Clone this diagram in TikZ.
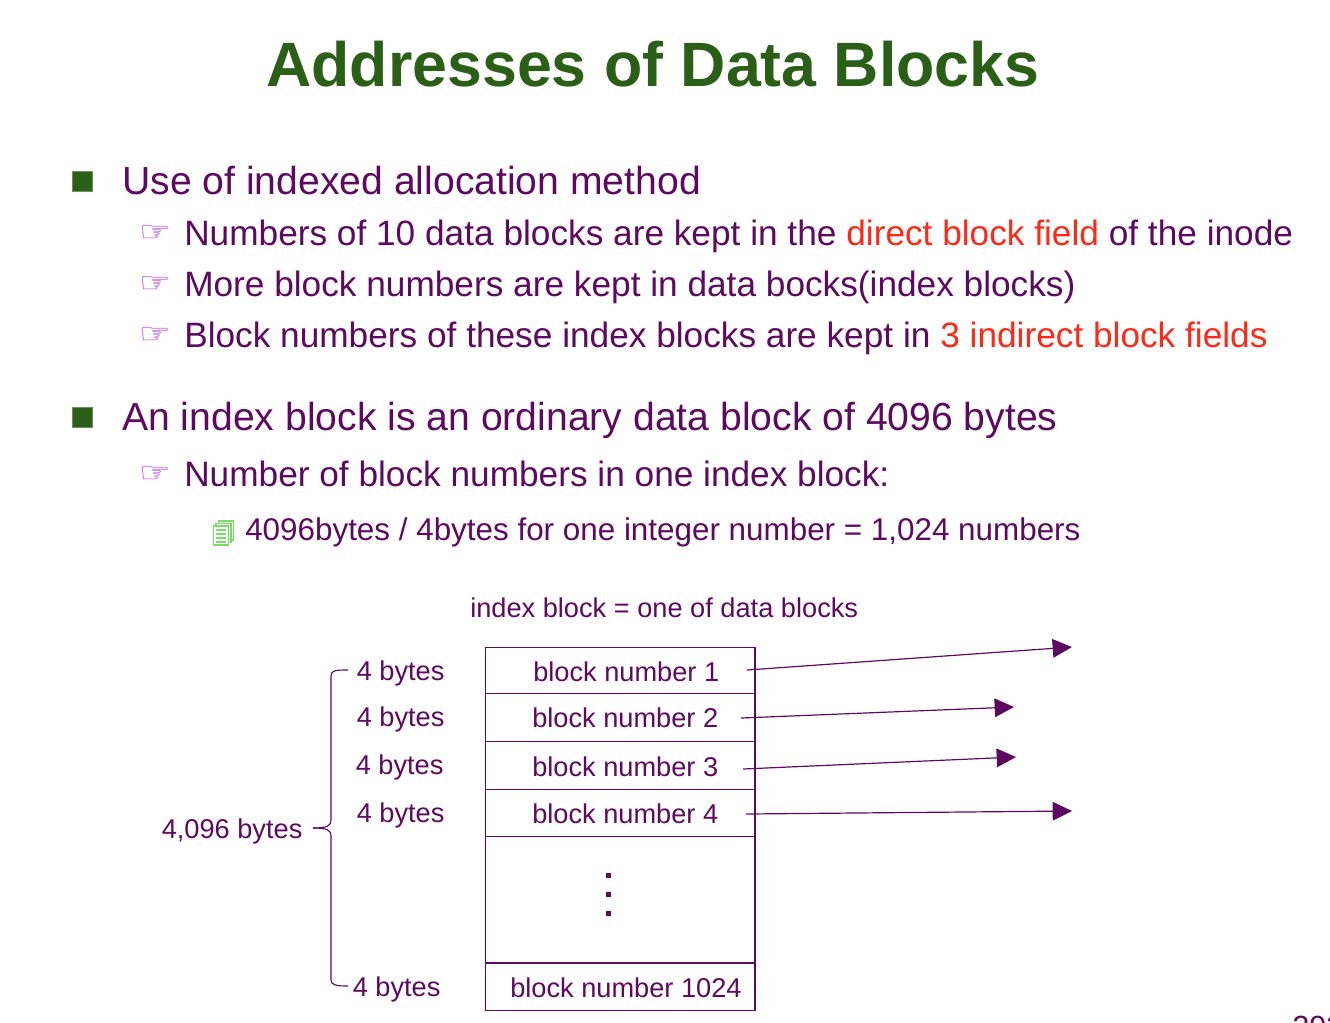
\documentclass[tikz,border=0pt]{standalone}
\usepackage{fontspec}
\setmainfont{Liberation Sans}
\newfontfamily\symfont[FakeBold=0.6,FakeStretch=1.3]{DejaVu Sans}
\usetikzlibrary{arrows.meta}
\definecolor{titlegreen}{HTML}{2B5F17}
\definecolor{textpurple}{HTML}{5C0A60}
\definecolor{alertred}{HTML}{FF2A1A}
\definecolor{handviolet}{HTML}{CC80FF}
\definecolor{pagegreen}{HTML}{77DD66}
\newcommand{\alert}[1]{\textcolor{alertred}{#1}}
\begin{document}
\begin{tikzpicture}[x=0.75pt,y=-0.75pt,
    textline/.style ={anchor=base west, inner sep=0pt, text=textpurple},
    levelone/.style ={textline, font=\fontsize{29.35}{36}\selectfont},
    leveltwo/.style ={textline, font=\fontsize{26.43}{31}\selectfont},
    levelthree/.style ={textline, font=\fontsize{23.55}{28}\selectfont},
    small/.style ={textline, font=\fontsize{20.4}{25}\selectfont},
    square/.style ={fill=titlegreen, draw=titlegreen!70, line width=0.3pt, inner sep=0pt, minimum size=15pt},
    hand/.style ={inner sep=0pt, text=handviolet, font=\symfont\fontsize{21}{25}\selectfont},
    cell/.style ={draw=textpurple, line width=0.8pt, inner sep=0pt, minimum width=202pt},
    pointer/.style ={draw=textpurple, line width=0.9pt, -{Triangle[length=14.5pt,width=14pt]}}]
   \useasboundingbox (0,0) rectangle (1330,1022);

   \node[anchor=base, inner sep=0pt, text=titlegreen, font=\fontsize{47}{56}\selectfont\bfseries] (title) at (653,86.5) {Addresses of Data Blocks};

   \node[square] (B1) at (82,181) {};
   \node[levelone] (L1) at (122,194) {Use of indexed allocation method};
   \node[hand] (H1) at (155,233) {☞};
   \node[leveltwo] (L2) at (184,245) {Numbers of 10 data blocks are kept in the \alert{direct block field} of the inode};
   \node[hand] (H2) at (155,284) {☞};
   \node[leveltwo] (L3) at (184,296) {More block numbers are kept in data bocks(index blocks)};
   \node[hand] (H3) at (155,335) {☞};
   \node[leveltwo] (L4) at (184,347) {Block numbers of these index blocks are kept in \alert{3 indirect block fields}};
   \node[square] (B2) at (82,417) {};
   \node[levelone] (L5) at (122,430) {An index block is an ordinary data block of 4096 bytes};
   \node[hand] (H4) at (155,474) {☞};
   \node[leveltwo] (L6) at (184,486) {Number of block numbers in one index block:};

   % stacked pages
   \foreach \d in {2,1,0} {
     \draw[pagegreen, line width=0.9pt, fill=white] (213.5+2.5*\d,526-2.5*\d) rectangle (228.5+2.5*\d,545-2.5*\d);
   }
   \foreach \y in {530,534,538,542} {
     \draw[pagegreen, line width=0.9pt] (216,\y) -- (226,\y);
   }
   \node[levelthree] (L7) at (245,540) {4096bytes / 4bytes for one integer number = 1,024 numbers};

   \node[small] (head) at (470,617) {index block = one of data blocks};

   \node[cell, minimum height=34.9pt] (R1) at (620.3,670.3) {};
   \node[cell, minimum height=35.6pt] (R2) at (620.3,717.3) {};
   \node[cell, minimum height=36.4pt] (R3) at (620.3,765.3) {};
   \node[cell, minimum height=35.3pt] (R4) at (620.3,813) {};
   \node[cell, minimum height=94.5pt] (R5) at (620.3,899.8) {};
   \node[cell, minimum height=35.3pt] (R6) at (620.3,986.5) {};

   \node[small] (N1) at (533,681) {block number 1};
   \node[small] (N2) at (532,727) {block number 2};
   \node[small] (N3) at (532,776) {block number 3};
   \node[small] (N4) at (532,823) {block number 4};
   \node[small] (N5) at (510,997) {block number 1024};

   \foreach \y in {875,894,913} {
     \fill[textpurple] (605.5,\y-2.5) rectangle (610.5,\y+2.5);
   }

   \node[small] (S1) at (356.5,680) {4 bytes};
   \node[small] (S2) at (356.5,726) {4 bytes};
   \node[small] (S3) at (355.5,774) {4 bytes};
   \node[small] (S4) at (356.5,822) {4 bytes};
   \node[small] (S5) at (352.5,996) {4 bytes};
   \node[small] (total) at (161.5,838) {4,096 bytes};

   \coordinate (A1) at (747,670);
   \coordinate (A2) at (741,718);
   \coordinate (A3) at (743,769);
   \coordinate (A4) at (746,814);
   \coordinate (T1) at (1072,647);
   \coordinate (T2) at (1014,707);
   \coordinate (T3) at (1016,757);
   \coordinate (T4) at (1072,811);
   \draw[pointer] (A1) -- (T1);
   \draw[pointer] (A2) -- (T2);
   \draw[pointer] (A3) -- (T3);
   \draw[pointer] (A4) -- (T4);

   % brace
   \coordinate (BT) at (348,670);
   \coordinate (BM) at (313,828);
   \coordinate (BB) at (348,986);
   \draw[textpurple, line width=0.85pt] (BT) .. controls (336,670) and (331,670) .. (331,676) -- (331,820) .. controls (331,826) and (327,828) .. (BM);
   \draw[textpurple, line width=0.85pt] (BM) .. controls (327,828) and (331,830) .. (331,836) -- (331,980) .. controls (331,985) and (336,986) .. (BB);

   \node[small, font=\fontsize{23}{28}\selectfont] (page) at (1292,1037) {293};
 \end{tikzpicture}
\end{document}
